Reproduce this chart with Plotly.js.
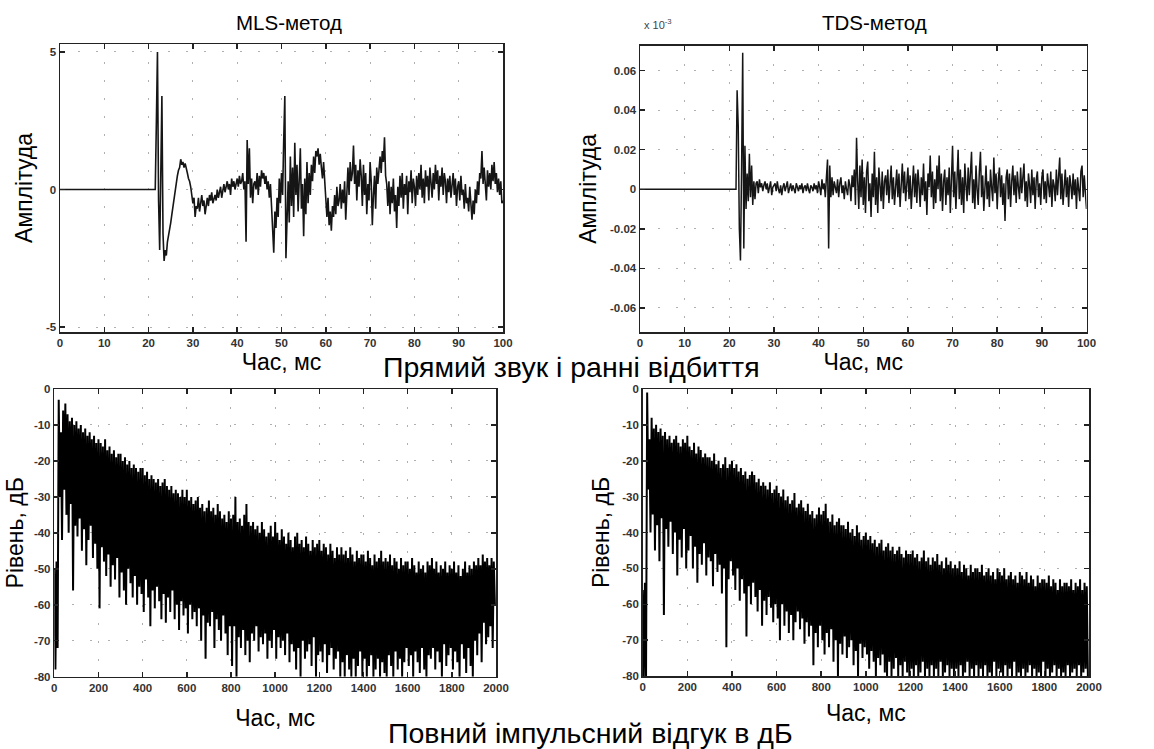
<!DOCTYPE html>
<html>
<head>
<meta charset="utf-8">
<script src="https://cdn.plot.ly/plotly-3.0.1.min.js"></script>
<style>html,body{margin:0;padding:0;background:#fff}#chart{width:1154px;height:749px}</style>
</head>
<body>
<div id="chart"></div>
<script>
// ---------- DATA ----------
const panelTitles = ['MLS-метод', 'TDS-метод'];
const captionTop = 'Прямий звук і ранні відбиття';
const captionBottom = 'Повний імпульсний відгук в дБ';
const xTitle = 'Час, мс';
const ampTitle = 'Амплітуда';
const levelTitle = 'Рівень, дБ';

// early part: flat until direct sound, then samples every 0.25 ms
const earlyFlatStart = 0;       // ms
const earlyStart = 21.5;        // ms, first sample of the waveform arrays
const earlyStep = 0.25;         // ms

const mlsWave = [
  0,2.4,5.0,-0.4,-2.2,0.5,3.4,-1.6,-2.6,-2.2,-2.4,-1.9,-1.7,-1.5,-1.2,-0.9,-0.6,-0.3,0.0,0.3,0.5,0.7,0.8,1.1,0.9,1.0,0.8,0.95,0.7,0.6,0.4,0.3,0.1,-0.2,-0.5,-0.3,-1.0,-0.6,
  -0.7,-0.3,-0.8,-0.5, -0.2,-0.6,-0.4,-0.9, -0.5,-0.3,-0.6,-0.2, -0.4,-0.1,-0.5,-0.3, -0.2,-0.4,0.0,-0.3, -0.1,0.1,-0.3,0.0, 0.2,-0.1,0.1,0.3, 0.0,0.2,-0.2,0.4, 0.1,0.3,0.0,0.2,
  0.4,0.1,0.5,0.2, 0.3,0.6,0.0,0.3,
  -1.9,1.8,0.2,1.5,
  -0.3,0.4,-0.5,0.2,
  0.3,0.0,0.6,-0.2, 0.5,0.1,0.7,0.4, 0.6,0.2,0.5,0.0, 0.3,-0.3,0.2,-0.6,
  -1.5,-2.3,-0.8,-1.4, -0.3,-1.0,0.4,-0.5, 0.6,-0.2,1.8,3.4, -2.5,-0.8,0.3,-1.2,
  1.2,-0.6,0.8,-1.0, 1.7,-0.2,0.9,-0.8, 0.3,1.5,-0.7,0.2, -1.7,0.4,-0.9,1.0,
  -0.5,0.6,-0.2,0.9, 0.3,1.2,0.6,1.4, 1.2,1.5,0.9,1.3, 0.8,0.4,1.0,0.2,
  -0.4,-1.0,-0.3,-1.3, -0.8,-1.5,-0.6,-1.0, -0.2,-0.9,0.1,-0.6, -0.4,0.2,-0.7,0.0,
  -0.5,0.3,-1.1,0.1, 0.8,-0.2,1.0,0.3, 0.6,1.6,0.2,0.9, -0.4,0.7,0.1,1.1,
  0.5,-0.6,0.9,-0.2, 0.6,-0.9,0.2,-0.4, 1.0,0.3,-1.3,-0.2, 0.5,-0.7,0.8,0.2,
  0.9,1.2,0.6,1.4, 1.0,1.9,0.5,0.2, -0.6,0.3,-0.9,0.1, -0.5,0.4,-0.8,-0.2,
  -1.4,0.1,-0.6,0.5, -0.3,0.6,-0.7,0.2, -0.2,0.5,-0.9,0.3, -0.1,0.7,-0.5,0.4,
  0.1,-0.6,0.5,-0.2, 0.6,0.0,0.9,-0.3, 0.4,-0.5,0.7,0.1, 0.5,-0.4,0.8,0.2,
  -0.3,0.6,0.0,0.9, 0.2,0.7,-0.4,0.5, 0.1,0.8,-0.2,0.6, 0.3,-0.5,0.4,-0.1,
  0.5,-0.3,0.2,0.6, -0.2,0.4,-0.6,0.1, 0.3,-0.4,0.5,-0.2, 0.0,-0.7,0.2,-0.5,
  -0.3,-0.8,0.1,-0.6, -1.1,-0.4,-0.9,0.0, -0.5,0.3,-0.2,0.6, 0.4,1.4,0.2,0.8,
  0.3,-0.4,0.7,0.1, 0.6,0.0,0.9,0.3, 1.0,0.2,0.6,-0.1, 0.4,-0.2,0.3,-0.5,
  -0.4
];

const tdsWave = [
  0,0.050,0.032,-0.020,-0.036,0.010,0.069,-0.030,0.022,-0.010,0.008,-0.006,0.018,-0.004,0.012,-0.008,0.004,-0.005,0.003,
  0.004,-0.002,0.005,0.001, 0.003,-0.001,0.002,0.004, 0.0,0.003,-0.002,0.002, 0.004,-0.003,0.001,0.002,
  0.003,-0.001,0.004,0.0, -0.002,0.002,-0.003,0.001, 0.003,-0.001,0.002,0.004, -0.002,0.001,0.003,-0.001, 0.002,0.0,-0.002,0.003,
  0.001,-0.001,0.002,0.0, 0.003,-0.002,0.001,0.002, -0.001,0.003,0.0,-0.002, 0.002,0.001,-0.001,0.003, 0.0,0.002,-0.002,0.004,
  0.001,-0.003,0.005,0.0, 0.003,-0.004,0.006,
  0.015,-0.030,0.012,-0.004,
  0.006,-0.003,0.004,0.001,
  -0.002,0.005,-0.004,0.003, 0.006,-0.002,0.002,-0.005,
  0.004,0.0,-0.003,0.005, 0.002,-0.006,0.007,0.001,
  0.010,-0.008,0.026,0.004, -0.010,0.012,-0.004,0.015, -0.008,0.006,-0.012,0.009, 0.014,-0.006,0.003,-0.014,
  0.008,-0.004,0.019,-0.008, 0.006,-0.012,0.011,0.002, -0.006,0.009,-0.010,0.004, 0.007,-0.003,0.010,-0.007,
  0.003,0.012,-0.005,0.006, -0.008,0.004,0.010,-0.004, 0.008,-0.009,0.005,0.013, -0.002,0.009,-0.006,0.004,
  0.011,-0.005,0.007,-0.010, 0.003,0.012,-0.004,0.008, -0.007,0.010,0.002,-0.009, 0.006,-0.003,0.013,-0.006,
  0.004,-0.013,0.008,0.001, 0.017,-0.004,0.009,-0.010, 0.005,-0.007,0.012,0.000, 0.017,-0.006,0.008,-0.011,
  0.004,0.010,-0.008,0.006, -0.003,0.011,-0.012,0.005, 0.022,-0.004,0.009,-0.010, 0.007,0.020,-0.005,0.010,
  -0.008,0.006,-0.012,0.013, 0.002,-0.006,0.011,-0.003, 0.008,0.019,-0.007,0.005, -0.010,0.012,0.000,-0.008,
  0.009,0.019,-0.004,0.007, -0.011,0.006,0.012,-0.005, 0.004,-0.009,0.010,0.001, -0.006,0.016,-0.002,0.008,
  -0.010,0.005,0.011,-0.004, 0.007,-0.008,0.003,-0.016, 0.006,0.010,-0.005,0.008, -0.009,0.004,0.012,-0.003,
  0.007,-0.007,0.009,0.001, -0.005,0.011,-0.002,0.006, 0.013,-0.006,0.004,-0.009, 0.008,0.002,-0.007,0.010,
  -0.003,0.006,-0.010,0.005, 0.009,-0.004,0.003,-0.008, 0.006,0.010,-0.005,0.004, -0.007,0.008,0.001,-0.004,
  0.009,-0.009,0.005,0.002, -0.006,0.010,-0.003,0.007, 0.016,-0.005,0.008,-0.008, 0.004,0.010,-0.004,0.006,
  -0.009,0.007,0.002,-0.005, 0.008,-0.003,0.005,-0.010, 0.006,0.001,-0.006,0.009, 0.012,-0.004,0.007,-0.002,
  -0.010
];

// full responses in dB, one sample every 5 ms from 0 ms
const dbStart = 0;
const dbStep = 5;
const mlsDb = [
  -50,-78,-48,-72,-3,-30,-12,-42,-6,-28,-4,-35,-7,-40,-9,-32,-8,-56,-10,-38,
  -9,-41,-11,-36,-10,-45,-12,-39,-11,-49,-13,-42,-12,-38,-14,-47,-13,-43,-15,-50,
  -14,-61,-15,-44,-16,-48,-14,-52,-17,-46,-16,-55,-18,-49,-17,-53,-19,-47,-18,-58,
  -18,-51,-20,-56,-19,-60,-21,-50,-20,-54,-22,-58,-21,-52,-22,-60,-23,-55,-22,-57,
  -22,-62,-24,-53,-23,-58,-25,-66,-24,-56,-25,-61,-26,-55,-25,-59,-27,-64,-26,-57,
  -25,-65,-27,-58,-28,-62,-27,-56,-29,-64,-28,-60,-29,-67,-30,-59,-28,-63,-30,-61,
  -28,-68,-31,-60,-30,-64,-32,-62,-31,-66,-30,-61,-33,-70,-32,-63,-34,-75,-33,-65,
  -31,-66,-34,-62,-33,-72,-35,-64,-32,-67,-34,-70,-36,-63,-35,-68,-37,-74,-34,-66,
  -36,-77,-35,-66,-30,-80,-37,-69,-36,-72,-38,-67,-35,-74,-32,-70,-37,-76,-38,-68,
  -37,-70,-39,-66,-38,-73,-40,-69,-37,-71,-39,-68,-41,-75,-40,-70,-38,-72,-41,-67,
  -37,-75,-40,-69,-42,-72,-39,-70,-41,-74,-43,-68,-40,-76,-42,-71,-44,-73,-41,-78,
  -40,-72,-43,-80,-42,-70,-44,-75,-41,-73,-43,-71,-45,-77,-42,-69,-44,-80,-43,-74,
  -42,-73,-45,-76,-43,-71,-44,-79,-46,-74,-43,-72,-45,-78,-47,-75,-44,-73,-46,-80,
  -44,-76,-46,-80,-45,-74,-47,-78,-44,-80,-46,-75,-48,-80,-45,-77,-47,-73,-46,-80,
  -46,-75,-48,-80,-45,-77,-47,-74,-49,-80,-46,-78,-48,-75,-47,-80,-45,-76,-48,-79,
  -47,-80,-48,-74,-46,-77,-49,-80,-47,-73,-48,-78,-50,-75,-47,-80,-49,-76,-48,-72,
  -48,-77,-50,-74,-47,-80,-49,-73,-51,-76,-48,-79,-50,-72,-49,-78,-51,-80,-48,-74,
  -49,-75,-47,-72,-50,-78,-48,-73,-51,-76,-49,-80,-50,-71,-48,-77,-51,-74,-49,-72,
  -50,-78,-48,-73,-51,-76,-49,-80,-52,-71,-50,-75,-48,-79,-51,-72,-49,-77,-50,-80,
  -48,-70,-49,-74,-47,-68,-49,-76,-46,-65,-48,-71,-47,-69,-49,-66,-47,-72,-48,-60
];
const tdsDb = [
  -56,-80,-54,-80,-1,-28,-14,-40,-8,-35,-11,-45,-10,-38,-12,-48,-11,-36,-13,-63,
  -12,-39,-14,-44,-13,-37,-15,-46,-14,-40,-13,-52,-15,-42,-16,-47,-14,-39,-15,-50,
  -13,-45,-16,-41,-17,-50,-15,-44,-18,-54,-16,-46,-17,-49,-19,-43,-18,-52,-19,-47,
  -19,-48,-20,-55,-18,-46,-21,-51,-20,-49,-22,-57,-21,-50,-19,-72,-22,-53,-21,-48,
  -20,-52,-22,-56,-21,-50,-23,-59,-22,-53,-24,-57,-23,-69,-25,-55,-24,-60,-23,-54,
  -24,-58,-26,-62,-25,-56,-27,-66,-26,-59,-27,-63,-28,-58,-26,-61,-29,-65,-28,-60,
  -27,-64,-29,-70,-30,-60,-28,-66,-31,-62,-30,-68,-32,-63,-31,-70,-29,-65,-33,-62,
  -32,-67,-31,-64,-33,-71,-34,-65,-32,-69,-35,-66,-34,-77,-36,-68,-35,-72,-33,-66,
  -35,-70,-34,-74,-32,-68,-36,-72,-37,-67,-35,-76,-38,-70,-37,-80,-36,-71,-38,-74,
  -38,-69,-39,-75,-37,-72,-40,-70,-39,-77,-41,-73,-38,-80,-40,-71,-42,-75,-41,-72,
  -40,-74,-42,-78,-41,-73,-43,-76,-42,-80,-44,-75,-43,-77,-42,-74,-45,-79,-44,-80,
  -43,-76,-45,-80,-44,-78,-46,-75,-45,-80,-44,-77,-46,-80,-47,-76,-45,-79,-46,-80,
  -46,-78,-45,-80,-47,-77,-46,-80,-48,-79,-47,-76,-45,-80,-48,-78,-47,-80,-49,-77,
  -47,-80,-48,-78,-46,-80,-49,-76,-48,-80,-50,-79,-47,-77,-49,-80,-48,-78,-50,-80,
  -49,-78,-50,-80,-48,-77,-51,-80,-49,-79,-50,-76,-52,-80,-49,-78,-51,-80,-50,-77,
  -50,-80,-51,-78,-49,-80,-52,-77,-51,-80,-50,-79,-52,-80,-51,-76,-53,-80,-50,-78,
  -51,-79,-52,-80,-50,-77,-53,-80,-52,-78,-51,-80,-53,-76,-52,-80,-54,-79,-51,-80,
  -52,-78,-53,-80,-51,-79,-54,-77,-52,-80,-53,-78,-55,-80,-52,-79,-54,-80,-53,-76,
  -53,-80,-54,-78,-52,-80,-55,-79,-53,-77,-54,-80,-56,-78,-53,-80,-55,-79,-54,-80,
  -54,-77,-55,-80,-53,-79,-56,-78,-54,-80,-55,-77,-53,-80,-56,-79,-54,-78,-55,-80
];

// tick labels
const msTicksEarly = [0,10,20,30,40,50,60,70,80,90,100];
const msTicksFull = [0,200,400,600,800,1000,1200,1400,1600,1800,2000];
const mlsAmpTicks = [-5,0,5];
const tdsAmpTicks = [-0.06,-0.04,-0.02,0,0.02,0.04,0.06];
const dbTicks = [-80,-70,-60,-50,-40,-30,-20,-10,0];

// ---------- BUILD ----------
function earlyX(arr){ return [earlyFlatStart].concat(arr.map((_, i) => earlyStart + i*earlyStep)); }
function earlyY(arr){ return [0].concat(arr); }
const fmt = v => String(v);

const traces = [
  {type:'scatter', mode:'lines', x:earlyX(mlsWave), y:earlyY(mlsWave), xaxis:'x', yaxis:'y', line:{color:'#151515', width:1.6}, hoverinfo:'skip', showlegend:false},
  {type:'scatter', mode:'lines', x:earlyX(tdsWave), y:earlyY(tdsWave), xaxis:'x2', yaxis:'y2', line:{color:'#151515', width:1.5}, hoverinfo:'skip', showlegend:false},
  {type:'scatter', mode:'lines', x0:dbStart, dx:dbStep, y:mlsDb, xaxis:'x3', yaxis:'y3', line:{color:'#000', width:2}, hoverinfo:'skip', showlegend:false},
  {type:'scatter', mode:'lines', x0:dbStart, dx:dbStep, y:tdsDb, xaxis:'x4', yaxis:'y4', line:{color:'#000', width:2}, hoverinfo:'skip', showlegend:false}
];

const W = 1154, H = 749;
const px = (a,b) => [a/W, b/W];
const py = (top,bottom) => [1-bottom/H, 1-top/H];
const FONT = 'Liberation Sans, Arial, sans-serif';
const titleFont = {family:FONT, size:23, color:'#000'};

function ax(extra){
  return Object.assign({
    showline:true, linecolor:'#222', linewidth:1.5, mirror:'ticks',
    ticks:'inside', ticklen:5, tickwidth:1.5, tickcolor:'#222',
    showgrid:true, gridcolor:'#b0b0b0', griddash:'2px,16px', gridwidth:1,
    zeroline:false, tickmode:'array',
    tickfont:{family:FONT, size:11.5, color:'#333', weight:'bold'},
    fixedrange:true, automargin:false
  }, extra);
}

const layout = {
  width:W, height:H,
  margin:{l:0,r:0,t:0,b:0},
  paper_bgcolor:'#fff', plot_bgcolor:'#fff',
  showlegend:false,
  xaxis: ax({domain:px(60,503), anchor:'y', range:[0,100], tickvals:msTicksEarly, ticktext:msTicksEarly.map(fmt),
    title:{text:xTitle, font:titleFont, standoff:4}}),
  yaxis: ax({domain:py(44,332), anchor:'x', range:[-5.18,5.29], tickvals:mlsAmpTicks, ticktext:mlsAmpTicks.map(fmt),
    title:{text:ampTitle, font:titleFont, standoff:7}}),
  xaxis2: ax({domain:px(640,1086.5), anchor:'y2', range:[0,100], tickvals:msTicksEarly, ticktext:msTicksEarly.map(fmt),
    title:{text:xTitle, font:titleFont, standoff:1}}),
  yaxis2: ax({domain:py(45.7,332), anchor:'x2', range:[-0.0722,0.0726], tickvals:tdsAmpTicks, ticktext:tdsAmpTicks.map(fmt),
    title:{text:ampTitle, font:titleFont, standoff:7}}),
  xaxis3: ax({domain:px(54.3,496), anchor:'y3', range:[0,2000], tickvals:msTicksFull, ticktext:msTicksFull.map(fmt),
    title:{text:xTitle, font:titleFont, standoff:17}}),
  yaxis3: ax({domain:py(389,676.7), anchor:'x3', range:[-80,0], tickvals:dbTicks, ticktext:dbTicks.map(fmt),
    title:{text:levelTitle, font:titleFont, standoff:4}}),
  xaxis4: ax({domain:px(642.7,1089), anchor:'y4', range:[0,2000], tickvals:msTicksFull, ticktext:msTicksFull.map(fmt),
    title:{text:xTitle, font:titleFont, standoff:12}}),
  yaxis4: ax({domain:py(389,676), anchor:'x4', range:[-80,0], tickvals:dbTicks, ticktext:dbTicks.map(fmt),
    title:{text:levelTitle, font:titleFont, standoff:6}}),
  annotations:[
    {text:panelTitles[0], xref:'paper', yref:'paper', x:289/W, y:1-22/H, showarrow:false, xanchor:'center', yanchor:'middle', font:{family:FONT, size:20.5, color:'#000'}},
    {text:panelTitles[1], xref:'paper', yref:'paper', x:874/W, y:1-22/H, showarrow:false, xanchor:'center', yanchor:'middle', font:{family:FONT, size:20.5, color:'#000'}},
    {text:'x 10<sup>-3</sup>', xref:'paper', yref:'paper', x:642/W, y:1-24/H, showarrow:false, xanchor:'left', yanchor:'middle', font:{family:FONT, size:11, color:'#444'}},
    {text:captionTop, xref:'paper', yref:'paper', x:571/W, y:1-367/H, showarrow:false, xanchor:'center', yanchor:'middle', font:{family:FONT, size:28.5, color:'#000'}},
    {text:captionBottom, xref:'paper', yref:'paper', x:590/W, y:1-733/H, showarrow:false, xanchor:'center', yanchor:'middle', font:{family:FONT, size:28.5, color:'#000'}}
  ]
};

Plotly.newPlot('chart', traces, layout, {displayModeBar:false, staticPlot:true});
</script>
</body>
</html>
